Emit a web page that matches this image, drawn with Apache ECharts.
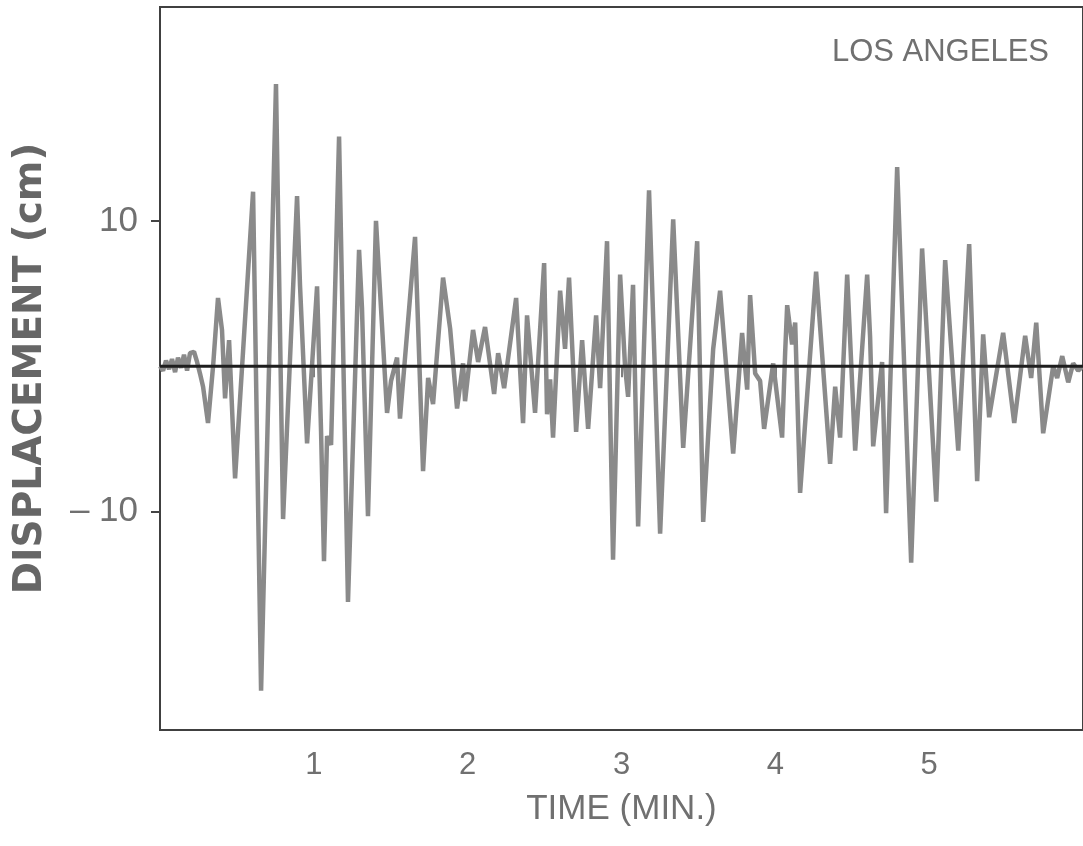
<!DOCTYPE html>
<html>
<head>
<meta charset="utf-8">
<script src="https://cdn.jsdelivr.net/npm/echarts@6/dist/echarts.min.js"></script>
<style>
html,body{margin:0;padding:0;background:#fff;}
#chart{width:1083px;height:846px;}
</style>
</head>
<body>
<div id="chart"></div>
<script>
// Time (minutes)
var timeMin = [
0.000,0.020,0.039,0.059,0.078,0.098,0.117,0.137,0.156,0.176,0.195,0.221,0.241,0.260,0.280,
0.312,0.345,0.377,0.403,0.423,0.449,0.488,0.605,0.657,0.754,0.800,0.891,0.910,0.956,1.021,
1.047,1.066,1.086,1.112,1.164,1.222,1.294,1.313,1.352,1.404,1.476,1.502,1.541,1.560,1.658,
1.710,1.743,1.775,1.840,1.886,1.931,1.970,1.983,2.035,2.068,2.113,2.172,2.198,2.237,2.315,
2.360,2.386,2.438,2.497,2.516,2.536,2.555,2.601,2.633,2.659,2.705,2.744,2.783,2.835,2.861,
2.906,2.945,2.991,3.023,3.043,3.075,3.108,3.179,3.251,3.336,3.401,3.492,3.531,3.596,3.641,
3.726,3.784,3.817,3.836,3.869,3.901,3.927,3.986,4.044,4.064,4.077,4.109,4.129,4.161,4.265,
4.356,4.389,4.421,4.467,4.519,4.597,4.616,4.636,4.694,4.720,4.792,4.883,4.954,5.046,5.104,
5.189,5.260,5.312,5.351,5.390,5.481,5.553,5.624,5.663,5.696,5.741,5.806,5.832,5.865,5.904,
5.936,5.969,6.000
];
// Displacement (cm)
var displacement = [
0,-0.3,0.4,-0.2,0.5,-0.4,0.6,-0.1,0.8,-0.3,0.9,1.0,0.3,-0.5,-1.4,
-3.9,0,4.7,2.5,-2.2,1.8,-7.7,12.0,-22.3,19.4,-10.5,11.7,5.6,-5.3,5.5,
-4.5,-13.4,-4.8,-5.4,15.8,-16.2,8.0,4.0,-10.3,10.0,-3.2,-1.0,0.6,-3.6,8.9,
-7.2,-0.8,-2.6,6.1,2.6,-2.9,0.2,-2.4,2.5,0.3,2.7,-1.9,0.9,-1.5,4.7,
-3.9,3.5,-3.2,7.1,-3.3,-0.9,-4.9,5.2,1.2,6.1,-4.5,1.8,-4.3,3.5,-1.5,
8.6,-13.3,6.3,0,-2.1,5.6,-11.0,12.1,-11.5,10.1,-5.6,8.6,-10.7,1.2,5.2,
-6.0,2.3,-1.6,4.9,-0.5,-1.0,-4.3,0.2,-4.9,1.0,4.2,1.5,3.0,-8.7,6.5,
-6.7,-1.4,-4.9,6.3,-5.8,6.3,2.0,-5.5,0.3,-10.1,13.7,-13.5,8.1,-9.3,7.3,
-5.8,8.4,-7.9,2.2,-3.5,2.3,-3.9,2.1,-0.8,3.0,-4.6,0,-0.8,0.7,-1.1,
0.2,-0.3,0
];
var xTicks = [1, 2, 3, 4, 5];
var yTicks = [-10, 10];
var yTickLabels = {'-10': '\u2013 10', '10': '10'};
var zeroLine = [[0, 0], [6, 0]];

var seriesData = timeMin.map(function (t, i) { return [t, displacement[i]]; });

var chart = echarts.init(document.getElementById('chart'), null, {renderer: 'canvas'});
var txt = '#707070';
chart.setOption({
  animation: false,
  backgroundColor: '#ffffff',
  grid: {left: 160, right: 0, top: 7, bottom: 116, outerBoundsMode: 'none', containLabel: false,
    show: true, borderColor: '#404040', borderWidth: 2, backgroundColor: 'transparent'},
  title: {
    text: 'LOS ANGELES', right: 29, top: 32,
    textStyle: {color: txt, fontFamily: 'Liberation Sans', fontWeight: 'normal', fontSize: 31}
  },
  xAxis: {
    type: 'value', min: 0, max: 6,
    name: 'TIME (MIN.)', nameLocation: 'middle', nameGap: 62,
    nameTextStyle: {color: txt, fontFamily: 'Liberation Sans', fontSize: 35},
    axisLine: {show: false},
    splitLine: {show: false},
    axisTick: {show: true, customValues: xTicks, length: 11, lineStyle: {color: '#555', width: 1.5}},
    axisLabel: {customValues: xTicks, color: txt, fontFamily: 'Liberation Sans', fontSize: 31, margin: 20}
  },
  yAxis: {
    type: 'value', min: -25, max: 24.7,
    name: 'DISPLACEMENT (cm)', nameLocation: 'middle', nameGap: 110, nameRotate: 90,
    nameTextStyle: {color: '#666666', fontFamily: 'DejaVu Sans', fontWeight: 'bold', fontSize: 39},
    axisLine: {show: false},
    splitLine: {show: false},
    axisTick: {show: true, customValues: yTicks, length: 9, lineStyle: {color: '#444', width: 2}},
    axisLabel: {customValues: yTicks, color: txt, fontFamily: 'Liberation Sans', fontSize: 35, margin: 22,
      formatter: function (v) { return yTickLabels[String(v)] || ''; }}
  },
  series: [
    {
      type: 'line', data: seriesData, showSymbol: false, silent: true,
      lineStyle: {color: '#8a8a8a', width: 4.5}, z: 2
    },
    {
      type: 'line', data: zeroLine, showSymbol: false, silent: true,
      lineStyle: {color: '#1e1e1e', width: 3}, z: 3
    }
  ]
});
</script>
</body>
</html>
